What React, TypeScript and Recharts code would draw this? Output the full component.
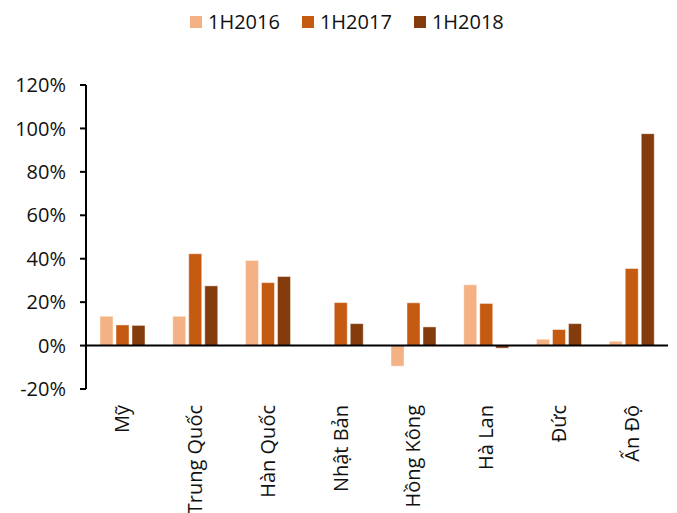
import { BarChart, Bar, XAxis, YAxis, ReferenceLine } from "recharts";

const countries = ["Mỹ", "Trung Quốc", "Hàn Quốc", "Nhật Bản", "Hồng Kông", "Hà Lan", "Đức", "Ấn Độ"];
const h2016 = [13.5, 13.5, 39.2, null, -9.5, 28, 2.9, 2];
const h2017 = [9.5, 42.3, 29, 19.8, 19.7, 19.4, 7.4, 35.5];
const h2018 = [9.3, 27.5, 31.8, 10.1, 8.6, -1.2, 10.1, 97.6];
const yTicks = [-20, 0, 20, 40, 60, 80, 100, 120];

const series = [
  { key: "h2016", name: "1H2016", color: "#F4B183" },
  { key: "h2017", name: "1H2017", color: "#C55A11" },
  { key: "h2018", name: "1H2018", color: "#843C0C" },
];

const data = countries.map((name, i) => ({
  name,
  h2016: h2016[i],
  h2017: h2017[i],
  h2018: h2018[i],
}));

const FONT = "'Open Sans', sans-serif";

const CountryTick = (props: any) => {
  const { x, y, payload } = props;
  return (
    <g transform={`translate(${x},${y + 8}) rotate(-90)`}>
      <text textAnchor="end" dy="0.35em" fontSize={20} fontFamily={FONT} fill="#111">
        {payload.value}
      </text>
    </g>
  );
};

// legend sits above the plot, outside the chart's own layout
const LegendBox = () => (
  <div
    style={{
      position: "absolute",
      top: 9,
      left: 190,
      display: "flex",
      gap: 22,
      fontFamily: FONT,
      fontSize: 20,
      lineHeight: "26px",
      color: "#111",
    }}
  >
    {series.map((s) => (
      <div key={s.key} style={{ display: "flex", alignItems: "center" }}>
        <span style={{ width: 12, height: 12, background: s.color, display: "inline-block", marginRight: 6 }} />
        <span>{s.name}</span>
      </div>
    ))}
  </div>
);

export default function App() {
  return (
    <div style={{ position: "absolute", left: 0, top: 0, width: 677, height: 513, background: "#fff" }}>
      <LegendBox />
      <BarChart
        width={677}
        height={513}
        data={data}
        margin={{ top: 85, right: 9, left: 6, bottom: 4 }}
        barSize={13}
        barGap={3}
      >
        <XAxis
          dataKey="name"
          axisLine={false}
          tickLine={false}
          interval={0}
          height={120}
          tick={<CountryTick />}
        />
        <YAxis
          domain={[-20, 120]}
          ticks={yTicks}
          width={80}
          interval={0}
          tickFormatter={(v) => `${v}%`}
          axisLine={{ stroke: "#000", strokeWidth: 2 }}
          tickLine={{ stroke: "#000", strokeWidth: 2 }}
          tickSize={6}
          tickMargin={14}
          tick={{ fontSize: 20, fontFamily: FONT, fill: "#111" }}
        />
        {series.map((s) => (
          <Bar
            key={s.key}
            dataKey={s.key}
            name={s.name}
            fill={s.color}
            stroke="#ffffff"
            strokeOpacity={0.45}
            strokeWidth={1}
            isAnimationActive={false}
          />
        ))}
        <ReferenceLine y={0} stroke="#000" strokeWidth={2} />
      </BarChart>
    </div>
  );
}
